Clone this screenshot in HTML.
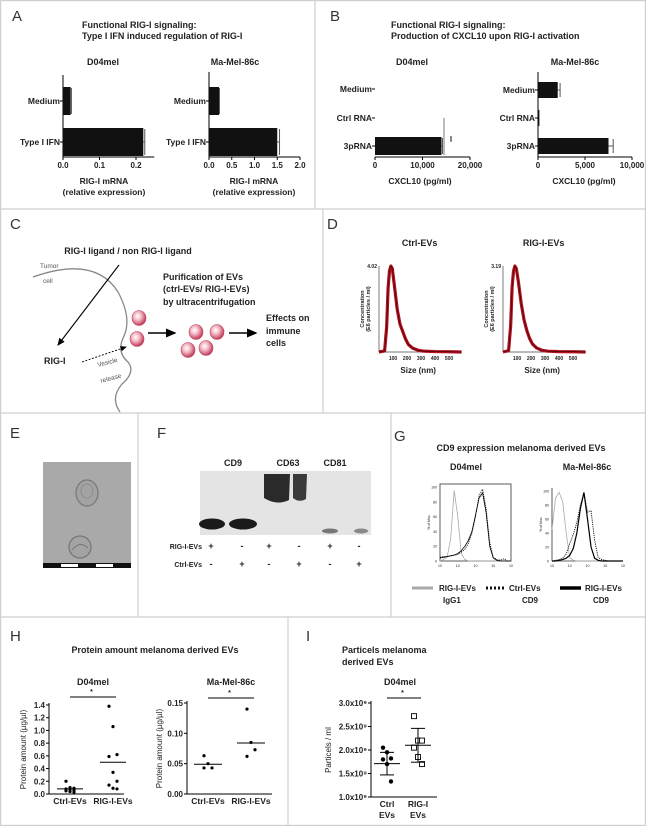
<!DOCTYPE html>
<html><head><meta charset="utf-8"><style>
html,body{margin:0;padding:0;background:#fff}
svg{display:block;font-family:"Liberation Sans",Arial,sans-serif}
.t{font-weight:bold;font-size:9px;fill:#222}
.s{font-size:8px;fill:#222;font-weight:bold}
.lab{font-size:15px;fill:#333}
.tiny{font-size:4px;fill:#333}
</style></head><body>
<svg id="fig" width="646" height="826" viewBox="0 0 646 826">
<defs>
<radialGradient id="ves" cx="40%" cy="38%" r="60%"><stop offset="0" stop-color="#fff"/><stop offset="0.45" stop-color="#f3b9c6"/><stop offset="1" stop-color="#c2415e"/></radialGradient>
<marker id="ah" markerWidth="8" markerHeight="8" refX="6" refY="3" orient="auto"><path d="M0,0 L7,3 L0,6 z" fill="#000"/></marker>
</defs>
<!-- frame -->
<g stroke="#cfcfcf" stroke-width="1.2" fill="none">
<rect x="0.6" y="0.6" width="644.8" height="824.8"/>
<line x1="0" y1="209" x2="646" y2="209"/><line x1="0" y1="413" x2="646" y2="413"/><line x1="0" y1="617" x2="646" y2="617"/>
<line x1="315" y1="0" x2="315" y2="209"/><line x1="323" y1="209" x2="323" y2="413"/>
<line x1="138" y1="413" x2="138" y2="617"/><line x1="391" y1="413" x2="391" y2="617"/>
<line x1="288" y1="617" x2="288" y2="826"/>
</g>
<text class="lab" x="12" y="21">A</text>
<text class="lab" x="330" y="21">B</text>
<text class="lab" x="10" y="229">C</text>
<text class="lab" x="327" y="229">D</text>
<text class="lab" x="10" y="438">E</text>
<text class="lab" x="157" y="438">F</text>
<text class="lab" x="394" y="441">G</text>
<text class="lab" x="10" y="641">H</text>
<text class="lab" x="306" y="641">I</text>

<text class="t" x="82" y="28">Functional RIG-I signaling:</text>
<text class="t" x="82" y="39">Type I IFN induced regulation of RIG-I</text>
<text class="t" x="391" y="28">Functional RIG-I signaling:</text>
<text class="t" x="391" y="39">Production of CXCL10 upon RIG-I activation</text>

<!-- Panel C diagram -->
<g>
<text class="t" x="128" y="254" text-anchor="middle">RIG-I ligand / non RIG-I ligand</text>
<path d="M33,277 Q95,255 118,292 Q132,318 124,336 Q116,352 128,362 Q136,372 122,384 Q110,398 120,412" fill="none" stroke="#888" stroke-width="1.3"/>
<text x="40" y="268" font-size="6.5" fill="#555">Tumor</text>
<text x="43" y="283" font-size="6.5" fill="#555">cell</text>
<line x1="119" y1="265" x2="58" y2="345" stroke="#000" stroke-width="1.1" marker-end="url(#ah)"/>
<text class="t" x="44" y="364">RIG-I</text>
<line x1="82" y1="362" x2="126" y2="347" stroke="#000" stroke-width="0.9" stroke-dasharray="2,1.5" marker-end="url(#ah)"/>
<text x="98" y="367" font-size="6.5" fill="#555" transform="rotate(-15 98 367)">Vesicle</text>
<text x="101" y="383" font-size="6.5" fill="#555" transform="rotate(-15 101 383)">release</text>
<g fill="url(#ves)" stroke="#c2415e" stroke-width="0.6">
<ellipse cx="139" cy="318" rx="7" ry="7.5"/>
<ellipse cx="137" cy="339" rx="7" ry="7.5"/>
<ellipse cx="196" cy="332" rx="7" ry="7.5"/>
<ellipse cx="217" cy="332" rx="7" ry="7.5"/>
<ellipse cx="188" cy="350" rx="7" ry="7.5"/>
<ellipse cx="206" cy="348" rx="7" ry="7.5"/>
</g>
<line x1="148" y1="333" x2="175" y2="333" stroke="#000" stroke-width="1.5" marker-end="url(#ah)"/>
<line x1="229" y1="333" x2="256" y2="333" stroke="#000" stroke-width="1.5" marker-end="url(#ah)"/>
<text class="t" x="163" y="280">Purification of EVs</text>
<text class="t" x="163" y="292">(ctrl-EVs/ RIG-I-EVs)</text>
<text class="t" x="163" y="305">by ultracentrifugation</text>
<text class="t" x="266" y="321">Effects on</text>
<text class="t" x="266" y="334">immune</text>
<text class="t" x="266" y="346">cells</text>
</g>

<!-- Panel E image -->
<g>
<rect x="43" y="462" width="88" height="101" fill="#a9a9a9"/>
<ellipse cx="87" cy="493" rx="11" ry="13" fill="#a3a3a3" stroke="#7a7a7a" stroke-width="1.3"/>
<ellipse cx="87" cy="491" rx="6" ry="7" fill="none" stroke="#8a8a8a" stroke-width="0.8"/>
<ellipse cx="80" cy="547" rx="11" ry="11" fill="#a3a3a3" stroke="#777" stroke-width="1.3"/>
<path d="M72,550 Q80,540 88,548" fill="none" stroke="#777" stroke-width="1"/>
<rect x="43" y="563" width="88" height="5" fill="#111"/>
<rect x="61" y="564" width="17" height="3" fill="#fff"/><rect x="96" y="564" width="17" height="3" fill="#fff"/>
</g>

<!-- Panel F blot -->
<g>
<text class="t" x="233" y="466" text-anchor="middle">CD9</text>
<text class="t" x="288" y="466" text-anchor="middle">CD63</text>
<text class="t" x="335" y="466" text-anchor="middle">CD81</text>
<rect x="200" y="471" width="171" height="64" fill="#e4e4e4"/>
<ellipse cx="212" cy="524" rx="13" ry="5.5" fill="#1a1a1a"/>
<ellipse cx="243" cy="524" rx="14" ry="5.5" fill="#1a1a1a"/>
<path d="M264,474 L290,474 L289,500 Q277,506 264,498 Z" fill="#2a2a2a"/>
<path d="M293,474 L307,474 L306,499 Q299,503 293,498 Z" fill="#3a3a3a"/>
<ellipse cx="330" cy="531" rx="8" ry="2.5" fill="#777"/>
<ellipse cx="361" cy="531" rx="7" ry="2.5" fill="#888"/>
</g>
<g class="t">
<text x="202" y="549" text-anchor="end" font-size="7">RIG-I-EVs</text>
<text x="202" y="567" text-anchor="end" font-size="7">Ctrl-EVs</text>
</g>

<!-- G titles/legend -->
<text class="t" x="521" y="451" text-anchor="middle">CD9 expression melanoma derived EVs</text>
<text class="t" x="466" y="470" text-anchor="middle">D04mel</text>
<text class="t" x="587" y="470" text-anchor="middle">Ma-Mel-86c</text>
<g>
<line x1="412" y1="588" x2="433" y2="588" stroke="#aaa" stroke-width="3"/>
<text class="s" x="439" y="591">RIG-I-EVs</text><text class="s" x="443" y="603">IgG1</text>
<line x1="486" y1="588" x2="505" y2="588" stroke="#111" stroke-width="3" stroke-dasharray="2,2"/>
<text class="s" x="509" y="591">Ctrl-EVs</text><text class="s" x="522" y="603">CD9</text>
<line x1="560" y1="588" x2="581" y2="588" stroke="#000" stroke-width="3.5"/>
<text class="s" x="585" y="591">RIG-I-EVs</text><text class="s" x="593" y="603">CD9</text>
</g>

<!-- H, I titles -->
<text class="t" x="155" y="653" text-anchor="middle">Protein amount melanoma derived EVs</text>
<text class="t" x="93" y="685" text-anchor="middle">D04mel</text>
<text class="t" x="231" y="685" text-anchor="middle">Ma-Mel-86c</text>
<text class="t" x="342" y="653">Particels melanoma</text>
<text class="t" x="342" y="665">derived EVs</text>
<text class="t" x="400" y="685" text-anchor="middle">D04mel</text>
<g id="charts"></g>
</svg>
<script>
// ---- data ----
const aCats = ['Medium','Type I IFN'];
const aD04Vals = [0.021, 0.22];
const aD04Err = [0.002, 0.004];
const aMaVals = [0.22, 1.5];
const aMaErr = [0.01, 0.05];
const aD04Ticks = [0.0, 0.1, 0.2];
const aMaTicks = [0.0, 0.5, 1.0, 1.5, 2.0];
const bCats = ['Medium','Ctrl RNA','3pRNA'];
const bD04Vals = [0, 0, 14000];
const bD04Err = [0, 0, 200];
const bMaVals = [2100, 150, 7500];
const bMaErr = [250, 0, 500];
const bD04Ticks = [0, 10000, 20000];
const bMaTicks = [0, 5000, 10000];
const dSizes = [0,40,55,65,75,85,95,110,130,150,170,190,210,240,280,320,400,500,590];
const dCtrlConc = [0,0.05,1.2,3.0,3.8,4.02,3.9,3.1,2.0,1.3,0.95,0.6,0.35,0.18,0.08,0.04,0.02,0.01,0];
const dRigConc = [0,0.05,1.0,2.4,3.0,3.19,3.1,2.6,1.8,1.2,0.8,0.5,0.3,0.15,0.06,0.03,0.015,0.01,0];
const dTicks = [100,200,300,400,500];
const gLogX = [0,0.2,0.4,0.6,0.8,1.0,1.2,1.4,1.6,1.8,2.0,2.2,2.4,2.6,2.8,3.0,3.2,3.4,3.6,3.8,4.0];
const gD04Iso = [0,2,5,30,95,60,10,2,0,0,0,0,0,0,0,0,0,0,0,0,0];
const gD04Ctrl = [5,6,6,7,8,9,12,16,24,38,60,88,97,70,25,5,2,1,3,0,0];
const gD04Rig = [4,5,6,7,8,10,14,20,28,40,62,85,92,65,20,4,1,0,0,0,0];
const gMaIso = [45,90,98,85,40,5,1,0,0,0,0,0,0,0,0,0,0,0,0,0,0];
const gMaCtrl = [0,1,2,4,10,25,38,55,80,97,70,72,30,5,2,1,0,0,0,0,0];
const gMaRig = [0,0,1,2,4,8,18,40,75,98,60,20,4,1,0,0,0,0,0,0,0];
const hCats = ['Ctrl-EVs','RIG-I-EVs'];
const hD04Ctrl = [0.2,0.1,0.09,0.08,0.07,0.06,0.05,0.04,0.03];
const hD04Rig = [1.38,1.06,0.62,0.59,0.34,0.2,0.14,0.09,0.08];
const hD04Med = [0.08, 0.5];
const hD04Ticks = [0,0.2,0.4,0.6,0.8,1.0,1.2,1.4];
const hMaCtrl = [0.063,0.05,0.043,0.043];
const hMaRig = [0.14,0.085,0.073,0.062];
const hMaMed = [0.049, 0.084];
const hMaTicks = [0,0.05,0.10,0.15];
const iCtrl = [2.05,1.95,1.82,1.8,1.7,1.33];
const iRig = [2.72,2.2,2.2,2.05,1.85,1.7];
const iMean = [1.71, 2.1];
const iSD = [0.24, 0.36];
const iTicks = [1.0,1.5,2.0,2.5,3.0];

const NS='http://www.w3.org/2000/svg';
const root=document.getElementById('charts');
function mk(tag, attrs, parent){const e=document.createElementNS(NS,tag);for(const k in attrs)e.setAttribute(k,attrs[k]);(parent||root).appendChild(e);return e;}
function txt(s,x,y,attrs){const e=mk('text',Object.assign({x:x,y:y,'font-size':8,'font-weight':'bold',fill:'#222'},attrs||{}));e.textContent=s;return e;}
function fmt(v){return v.toLocaleString('en-US');}

// Horizontal bar chart
function hbar(cats, vals, errs, ticks, x0, k, yc, bh, yTop, yAxis, xMax, name, tickFmt, title, tx){
  const g=mk('g',{});
  
  
  const X=v=>x0+v*k;
  const ax=mk('line',{x1:x0,y1:yTop,x2:x0,y2:yAxis,stroke:'#000','stroke-width':1},g);
  
  
  const xa=mk('line',{x1:x0,y1:yAxis,x2:X(xMax),y2:yAxis,stroke:'#000','stroke-width':1},g);
  
  
  cats.forEach((c,i)=>{
    const y=yc[i];
    if(vals[i]>0){
      const b=mk('rect',{x:x0,y:y-bh/2,width:X(vals[i])-x0,height:bh,fill:'#111'},g);
      
      
    }
    if(errs[i]>0){const e=mk('line',{x1:X(vals[i]),y1:y,x2:X(vals[i]+errs[i]),y2:y,stroke:'#555'},g);
      mk('line',{x1:X(vals[i]+errs[i]),y1:y-bh/2+1,x2:X(vals[i]+errs[i]),y2:y+bh/2-1,stroke:'#555'},g);}
    mk('line',{x1:x0-3,y1:y,x2:x0,y2:y,stroke:'#000'},g);
    const t=txt(c,x0-3,y+3,{'text-anchor':'end','font-size':8.5});g.appendChild(t);
    
    
  });
  ticks.forEach(v=>{
    mk('line',{x1:X(v),y1:yAxis,x2:X(v),y2:yAxis+3,stroke:'#000'},g);
    const t=txt(tickFmt(v),X(v),yAxis+11,{'text-anchor':'middle','font-size':8});g.appendChild(t);
    
    
  });
  title.forEach((s,i)=>{const t=txt(s,tx,yAxis+27+i*11,{'text-anchor':'middle','font-size':8.5});g.appendChild(t);
    
    });
  return g;
}
txt('D04mel',103,65,{'text-anchor':'middle','font-size':9});
txt('Ma-Mel-86c',235,65,{'text-anchor':'middle','font-size':9});
txt('D04mel',412,65,{'text-anchor':'middle','font-size':9});
txt('Ma-Mel-86c',575,65,{'text-anchor':'middle','font-size':9});
hbar(aCats,aD04Vals,aD04Err,aD04Ticks,63,365,[101,142],28,75,157,0.25,'a-d04mel-chart',v=>v.toFixed(1),['RIG-I mRNA','(relative expression)'],104);
hbar(aCats,aMaVals,aMaErr,aMaTicks,209,45.5,[101,142],28,72,157,2.0,'a-mamel-chart',v=>v.toFixed(1),['RIG-I mRNA','(relative expression)'],254);
const gb1=hbar(bCats,bD04Vals,bD04Err,bD04Ticks,375,0.00475,[89,118,146],18,80,157,20000,'b-d04mel-chart',fmt,['CXCL10 (pg/ml)'],420);
gb1.firstChild.setAttribute('stroke','#fff');
hbar(bCats,bMaVals,bMaErr,bMaTicks,538,0.0094,[90,118,146],16,72,157,10000,'b-mamel-chart',fmt,['CXCL10 (pg/ml)'],584);
const sig=mk('line',{x1:444,y1:118,x2:444,y2:155,stroke:'#777'});


txt('***',448,136,{'font-size':5,transform:'rotate(90 448 136)'});

// Panel D
function nta(sz,conc,x0,name,title,maxLab){
  const g=mk('g',{});
  
  
  const X=s=>x0+s*0.14, yb=352, cmax=Math.max(...conc), Y=c=>yb-c/cmax*86;
  mk('line',{x1:x0,y1:266,x2:x0,y2:yb,stroke:'#444','stroke-width':0.7},g);
  mk('line',{x1:x0,y1:yb,x2:X(590),y2:yb,stroke:'#444','stroke-width':0.7},g);
  const pts=sz.map((s,i)=>X(s)+','+Y(conc[i])).join(' ');
  const band=mk('polyline',{points:pts,fill:'none',stroke:'#b01020','stroke-width':3.2,'stroke-linejoin':'round'},g);
  
  
  const ln=mk('polyline',{points:pts,fill:'none',stroke:'#300','stroke-width':0.6},g);
  
  
  dTicks.forEach(v=>{const t=txt(String(v),X(v),360,{'text-anchor':'middle','font-size':5});g.appendChild(t);});
  g.appendChild(txt(maxLab,x0-2,268,{'text-anchor':'end','font-size':5}));
  g.appendChild(txt('Size (nm)',X(280),373,{'text-anchor':'middle','font-size':8}));
  g.appendChild(txt(title,X(290),246,{'text-anchor':'middle','font-size':9}));
  g.appendChild(txt('Concentration',x0-15,309,{'text-anchor':'middle','font-size':5.5,transform:'rotate(-90 '+(x0-15)+' 309)'}));
  g.appendChild(txt('(E6 particles / ml)',x0-9,309,{'text-anchor':'middle','font-size':5.5,transform:'rotate(-90 '+(x0-9)+' 309)'}));
}
nta(dSizes,dCtrlConc,379,'d-ctrl-evs-chart','Ctrl-EVs','4.02');
nta(dSizes,dRigConc,503,'d-rig-i-evs-chart','RIG-I-EVs','3.19');

// blot +/- labels
const laneX=[211,242,269,299,330,359];
const rigSigns=['+','-','+','-','+','-'], ctrlSigns=['-','+','-','+','-','+'];
laneX.forEach((x,i)=>{txt(rigSigns[i],x,549,{'text-anchor':'middle','font-size':9});txt(ctrlSigns[i],x,567,{'text-anchor':'middle','font-size':9});});

// Panel G histograms
function hist(x0,x1,yT,yB,box,series,name){
  const g=mk('g',{});
  
  
  if(box) mk('rect',{x:x0,y:yT,width:x1-x0,height:yB-yT,fill:'none',stroke:'#333','stroke-width':0.8},g);
  else {mk('line',{x1:x0,y1:yT,x2:x0,y2:yB,stroke:'#333','stroke-width':0.8},g);mk('line',{x1:x0,y1:yB,x2:x1,y2:yB,stroke:'#333','stroke-width':0.8},g);}
  const X=l=>x0+l/4*(x1-x0), Y=c=>yB-c/100*(yB-yT-3);
  [0,20,40,60,80,100].forEach(v=>g.appendChild(txt(String(v),x0-3,Y(v)+1.5,{'text-anchor':'end','font-size':3.5,'font-weight':'normal'})));
  [0,1,2,3,4].forEach(v=>g.appendChild(txt('10',X(v),yB+6,{'text-anchor':'middle','font-size':3.5,'font-weight':'normal'})));
  g.appendChild(txt('% of Max',x0-10,(yT+yB)/2,{'text-anchor':'middle','font-size':3.5,'font-weight':'normal',transform:'rotate(-90 '+(x0-10)+' '+((yT+yB)/2)+')'}));
  series.forEach(s=>{
    const p=mk('polyline',{points:gLogX.map((l,i)=>X(l)+','+Y(s.d[i])).join(' '),fill:'none',stroke:s.c,'stroke-width':s.w,'stroke-dasharray':s.dash||'none'},g);
    
    
  });
}
hist(440,511,484,561,true,[{d:gD04Iso,c:'#aaa',w:0.8,n:'isotype-igg1-curve'},{d:gD04Ctrl,c:'#111',w:0.9,dash:'1.2,1',n:'ctrl-evs-cd9-curve'},{d:gD04Rig,c:'#000',w:0.8,n:'rig-i-evs-cd9-curve'}],'g-d04mel-histogram');
hist(552,623,488,561,false,[{d:gMaIso,c:'#aaa',w:0.8,n:'isotype-igg1-curve'},{d:gMaCtrl,c:'#111',w:0.9,dash:'1.2,1',n:'ctrl-evs-cd9-curve'},{d:gMaRig,c:'#000',w:1.2,n:'rig-i-evs-cd9-curve'}],'g-mamel-histogram');

// Scatter plots
function scatter(o){
  const g=mk('g',{});
  
  
  const Y=v=>o.yB-(v-o.vmin)/(o.vmax-o.vmin)*(o.yB-o.yT);
  mk('line',{x1:o.x0,y1:o.yT-2,x2:o.x0,y2:o.yB,stroke:'#000'},g);
  mk('line',{x1:o.x0,y1:o.yB,x2:o.x1,y2:o.yB,stroke:'#000'},g);
  o.ticks.forEach(v=>{mk('line',{x1:o.x0-3,y1:Y(v),x2:o.x0,y2:Y(v),stroke:'#000'},g);
    const t=txt(o.tf(v),o.x0-4,Y(v)+3,{'text-anchor':'end','font-size':8});g.appendChild(t);
    
    });
  o.groups.forEach((grp,gi)=>{
    const cx=o.cx[gi];
    grp.forEach((v,i)=>{
      const off=o.jit?((i%3)-1)*4:0;
      let m;
      if(o.open&&gi==1) m=mk('rect',{x:cx+off-2.5,y:Y(v)-2.5,width:5,height:5,fill:'#fff',stroke:'#000','stroke-width':0.9},g);
      else m=mk('circle',{cx:cx+off,cy:Y(v),r:o.r,fill:'#000'},g);
      
      
    });
    const ml=mk('line',{x1:cx-o.mw,y1:Y(o.med[gi]),x2:cx+o.mw,y2:Y(o.med[gi]),stroke:'#000','stroke-width':1},g);
    
    
    if(o.sd){const a=Y(o.med[gi]-o.sd[gi]),b=Y(o.med[gi]+o.sd[gi]);
      mk('line',{x1:cx,y1:a,x2:cx,y2:b,stroke:'#000'},g);
      mk('line',{x1:cx-7,y1:a,x2:cx+7,y2:a,stroke:'#000'},g);
      mk('line',{x1:cx-7,y1:b,x2:cx+7,y2:b,stroke:'#000'},g);}
    o.labels[gi].forEach((s,li)=>g.appendChild(txt(s,cx,o.yB+10+li*11,{'text-anchor':'middle','font-size':8.5})));
  });
  const sl=mk('line',{x1:o.cx[0],y1:o.sigY,x2:o.cx[1]+3,y2:o.sigY,stroke:'#000','stroke-width':1},g);
  
  
  g.appendChild(txt('*',(o.cx[0]+o.cx[1])/2,o.sigY-3,{'text-anchor':'middle','font-size':7}));
  g.appendChild(txt(o.ytitle,o.ytx,(o.yT+o.yB)/2,{'text-anchor':'middle','font-size':8,'font-weight':'normal',transform:'rotate(-90 '+o.ytx+' '+((o.yT+o.yB)/2)+')'}));
}
scatter({name:'h-d04mel-scatter',x0:49,x1:124,yT:705,yB:794,vmin:0,vmax:1.4,ticks:hD04Ticks,tf:v=>v.toFixed(1),groups:[hD04Ctrl,hD04Rig],cx:[70,113],med:hD04Med,mw:13,r:1.6,jit:true,labels:[['Ctrl-EVs'],['RIG-I-EVs']],sigY:697,ytitle:'Protein amount (\u00b5g/\u00b5l)',ytx:26});
scatter({name:'h-mamel-scatter',x0:187,x1:272,yT:703,yB:794,vmin:0,vmax:0.15,ticks:hMaTicks,tf:v=>v.toFixed(2),groups:[hMaCtrl,hMaRig],cx:[208,251],med:hMaMed,mw:14,r:1.6,jit:true,labels:[['Ctrl-EVs'],['RIG-I-EVs']],sigY:698,ytitle:'Protein amount (\u00b5g/\u00b5l)',ytx:162});
scatter({name:'i-particles-scatter',x0:371,x1:437,yT:703,yB:797,vmin:1.0,vmax:3.0,ticks:iTicks,tf:v=>v.toFixed(1)+'x10\u2079',groups:[iCtrl,iRig],cx:[387,418],med:iMean,sd:iSD,mw:13,r:2.2,jit:true,open:true,labels:[['Ctrl','EVs'],['RIG-I','EVs']],sigY:698,ytitle:'Particels / ml',ytx:331});
</script>
</body></html>
